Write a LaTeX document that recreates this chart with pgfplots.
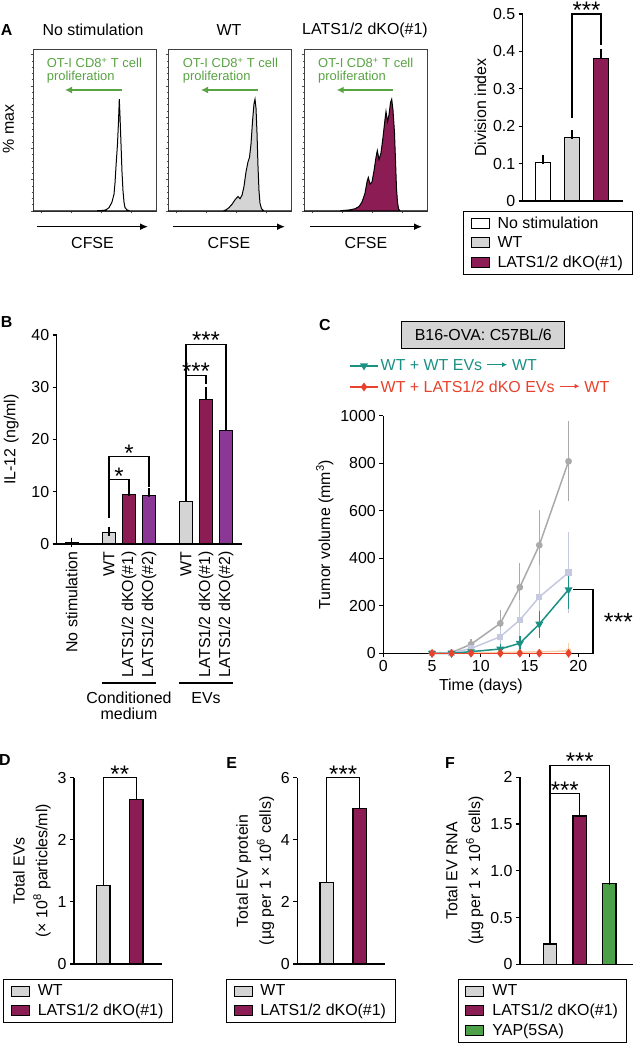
\documentclass[border=0pt]{standalone}
\usepackage{pgfplots}
\pgfplotsset{compat=1.18}
\usepackage{fontspec}
\setmainfont{Liberation Sans}
\usetikzlibrary{arrows.meta}
\definecolor{maroon}{RGB}{139,29,84}
\definecolor{purp}{RGB}{138,55,150}
\definecolor{lgray}{RGB}{212,212,212}
\definecolor{ygreen}{RGB}{76,161,72}
\definecolor{grn}{RGB}{88,163,66}
\definecolor{teal}{RGB}{26,145,132}
\definecolor{cred}{RGB}{232,65,44}
\definecolor{cgray}{RGB}{170,170,170}
\definecolor{clav}{RGB}{197,201,224}
\definecolor{corange}{RGB}{246,208,168}
\newcommand{\fs}{\fontsize{16}{19}\selectfont}
\newcommand{\fsm}{\fontsize{13}{12.7}\selectfont}
\newcommand{\st}{\fontsize{24}{24}\selectfont}
\newcommand{\tarr}[1]{\tikz[baseline=-0.55ex]\draw[#1, line width=1.1bp, -{Latex[length=5bp,width=5bp]}] (0,0) -- (20bp,0);}
\tikzset{sig/.style={line width=1.2bp}}
\pgfplotsset{
  every axis/.append style={font=\fs, scale only axis,
    /pgf/number format/assume math mode=true, /pgf/number format/1000 sep={},
    scaled ticks=false, axis line style={line width=1.2bp}, major tick length=4bp,
    tick style={line width=1.2bp, black}, clip=false},
  barax/.style={axis x line*=bottom, axis y line*=left,
    xtick=\empty, tick align=outside, ymin=0,
    legend cell align=left,
    legend style={draw=black, line width=1bp, font=\fs, inner xsep=7bp, inner ysep=2bp,
      column sep=6bp, nodes={inner ysep=3.4bp}},
    error bars/y dir=plus, error bars/y explicit,
    error bars/error bar style={line width=1.2bp, black},
    error bars/error mark options={line width=1.2bp, black, mark size=4.5bp}},
  bb/.style={ybar, bar shift=0pt, draw=black, line width=1.2bp,
    legend image code/.code={\draw[##1, line width=1bp] (0bp,-5bp) rectangle (18bp,5bp);}},
  hist/.style={anchor=south west, width=123bp, height=162bp, xmin=0, xmax=123, ymin=0, ymax=145,
    xtick={8,38,68,98}, ytick={0,28,56,84,112,140}, minor x tick num=4, minor y tick num=4,
    xticklabels={}, yticklabels={}, xtick pos=left, ytick pos=left, tick align=outside,
    major tick length=2.5bp, minor tick length=1.5bp,
    axis line style={line width=0.9bp, black!75}, tick style={line width=0.6bp, black!70}},
}
\begin{document}
\begin{tikzpicture}[x=1bp,y=1bp]
% ---------- Panel A histograms ----------
\begin{axis}[hist, at={(33bp,839bp)}]
\addplot[fill=white, draw=black, line width=1bp] coordinates {(0,0) (60,0) (70,0.5) (73,1) (76,3) (79,8) (81,15) (82,25) (83,40) (84.5,60) (85.5,80) (86.3,100) (87,85) (88,60) (89,35) (90,18) (91,8) (92,3) (94,1) (97,0) (123,0)} \closedcycle;
\node[anchor=north west, align=left, inner sep=0, font=\fsm, text=grn] at (axis cs:13.7,137) {OT-I CD8\textsuperscript{+} T cell\\proliferation};
\draw[grn, line width=2bp, -{Latex[length=7bp,width=7bp]}] (axis cs:88.7,108.3) -- (axis cs:32,108.3);
\end{axis}
\begin{axis}[hist, at={(168bp,839bp)}]
\addplot[fill=lgray, draw=black, line width=1bp] coordinates {(0,0) (55,0) (58,1) (61,3) (64,6) (67,10) (70,13) (72,11) (74,14) (76,22) (78,35) (80,44) (81.5,48) (83,60) (84.5,80) (86,96) (87,100) (88,92) (89,70) (90,40) (91,18) (92,7) (93.5,2) (96,0) (123,0)} \closedcycle;
\node[anchor=north west, align=left, inner sep=0, font=\fsm, text=grn] at (axis cs:14.7,137) {OT-I CD8\textsuperscript{+} T cell\\proliferation};
\draw[grn, line width=2bp, -{Latex[length=7bp,width=7bp]}] (axis cs:89.7,108.3) -- (axis cs:33,108.3);
\end{axis}
\begin{axis}[hist, at={(304bp,839bp)}]
\addplot[fill=maroon, draw=black, line width=1bp] coordinates {(0,0) (34,0) (40,0.5) (46,1) (51,2) (55,4) (58,8) (61,16) (63,26) (64.3,30) (66,24) (68,26) (70,36) (72,48) (73.3,54) (75,46) (77,52) (79,66) (81,82) (82,89) (83.5,80) (85,86) (86.5,97) (87.7,100) (89,90) (90.5,70) (91.5,45) (92.5,20) (93.5,8) (94.5,2) (96,0) (123,0)} \closedcycle;
\node[anchor=north west, align=left, inner sep=0, font=\fsm, text=grn] at (axis cs:14,137) {OT-I CD8\textsuperscript{+} T cell\\proliferation};
\draw[grn, line width=2bp, -{Latex[length=7bp,width=7bp]}] (axis cs:89,108.3) -- (axis cs:32.7,108.3);
\end{axis}
\node[font=\fs] at (93,1020) {No stimulation};
\node[font=\fs] at (229,1020) {WT};
\node[font=\fs] at (365,1020) {LATS1/2 dKO(\#1)};
\node[font=\fs\bfseries] at (6.7,1020) {A};
\node[font=\fs, rotate=90] at (8.3,921) {\% max};
\foreach \a/\b in {37/148,173/285,310/422} {
  \draw[line width=1.5bp, -{Latex[length=8bp,width=7bp]}] (\a,823.3) -- (\b,823.3);
  \node[font=\fs] at ({(\a+\b)/2},807) {CFSE};
}
% ---------- Panel A bars ----------
\begin{axis}[barax, at={(522.7bp,849bp)}, anchor=south west, width=100.3bp, height=187bp,
  xmin=522.7, xmax=623, ymax=0.5, ytick={0,0.1,0.2,0.3,0.4,0.5}, bar width=15bp,
  ylabel={Division index}, legend style={at={(-0.595,-0.0535)}, anchor=north west}]
\addplot[bb, fill=white] coordinates {(543,0.103) +- (0,0.007)};
\addlegendentry{No stimulation}
\addplot[bb, fill=lgray] coordinates {(572,0.170) +- (0,0.007)};
\addlegendentry{WT}
\addplot[bb, fill=maroon] coordinates {(601,0.382) +- (0,0.013)};
\addlegendentry{LATS1/2 dKO(\#1)}
\draw[sig] (axis cs:572,0.222) |- (axis cs:601,0.5) -- (axis cs:601,0.417);
\node[anchor=base, inner sep=0, font=\st, yshift=-4.5bp] at (axis cs:586.5,0.5) {***};
\end{axis}
% ---------- Panel B ----------
\node[font=\fs\bfseries] at (6.7,728.3) {B};
\begin{axis}[barax, at={(56.7bp,506bp)}, anchor=south west, width=185bp, height=209bp,
  xmin=56.7, xmax=241.7, ymax=40, ytick={0,10,20,30,40}, bar width=13bp,
  xtick={71.7,109,129,149,186,206,226},
  xticklabels={No stimulation, WT, LATS1/2 dKO(\#1), LATS1/2 dKO(\#2), WT, LATS1/2 dKO(\#1), LATS1/2 dKO(\#2)},
  xticklabel style={rotate=90, anchor=east}, major x tick style={draw=none},
  ylabel={IL-12 (ng/ml)}, ylabel shift=6bp]
\addplot[bb, fill=white] coordinates {(71.7,0.3) +- (0,0.05)};
\addplot[bb, fill=lgray] coordinates {(109,2.2) +- (0,0.15)};
\addplot[bb, fill=maroon] coordinates {(129,9.4) +- (0,0.6)};
\addplot[bb, fill=purp] coordinates {(149,9.25) +- (0,0.55)};
\addplot[bb, fill=lgray] coordinates {(186,8.2) +- (0,1.3)};
\addplot[bb, fill=maroon] coordinates {(206,27.6) +- (0,1.6)};
\addplot[bb, fill=purp] coordinates {(226,21.7) +- (0,2.0)};
\draw[sig] (axis cs:109,5.0) |- (axis cs:129,12.3) -- (axis cs:129,11.0);
\draw[sig] (axis cs:109,12.3) |- (axis cs:149,16.7) -- (axis cs:149,11.0);
\node[anchor=base, inner sep=0, font=\st, yshift=-4.5bp] at (axis cs:119,12.3) {*};
\node[anchor=base, inner sep=0, font=\st, yshift=-4.5bp] at (axis cs:129,16.7) {*};
\draw[sig] (axis cs:186,10.3) |- (axis cs:206,32.3) -- (axis cs:206,30.6);
\draw[sig] (axis cs:186,32.3) |- (axis cs:226,38.2) -- (axis cs:226,24.5);
\node[anchor=base, inner sep=0, font=\st, yshift=-4.5bp] at (axis cs:196,32.3) {***};
\node[anchor=base, inner sep=0, font=\st, yshift=-4.5bp] at (axis cs:206,38.2) {***};
\draw[line width=1.2bp] (axis cs:101.7,-26.6) -- (axis cs:156,-26.6);
\draw[line width=1.2bp] (axis cs:179,-26.6) -- (axis cs:233,-26.6);
\node[anchor=north, align=center, inner sep=0, font=\fontsize{16}{16}\selectfont] at (axis cs:129,-28.3) {Conditioned\\medium};
\node[anchor=north, inner sep=0, font=\fs] at (axis cs:206,-28.3) {EVs};
\end{axis}
% ---------- Panel C ----------
\node[font=\fs\bfseries] at (325,725) {C};
\node[draw=black, line width=1.2bp, fill=lgray, minimum width=163bp, minimum height=26.7bp, font=\fs, inner sep=0] at (483.3,715) {B16-OVA: C57BL/6};
\begin{axis}[at={(383.3bp,396.7bp)}, anchor=south west, width=195bp, height=237.6bp,
  xmin=0, xmax=20, ymin=0, ymax=1000, axis x line*=bottom, axis y line*=left,
  tick align=outside, xtick={0,5,10,15,20}, ytick={0,200,400,600,800,1000},
  xlabel={Time (days)}, ylabel={Tumor volume (mm\textsuperscript{3})},
  legend cell align=left,
  legend style={at={(-0.191,1.254)}, anchor=north west, draw=none, fill=none, font=\fs, row sep=4.5bp,
    legend image code/.code={\draw[mark repeat=2, mark phase=2, #1] plot coordinates {(0bp,0bp) (14bp,0bp) (28bp,0bp)};}}]
\addplot[forget plot, cgray, line width=1.5bp, mark=*, mark size=2.6bp,
  error bars/.cd, y dir=both, y explicit, error bar style={line width=1.2bp, cgray}, error mark options={line width=1.2bp, cgray, mark size=4bp}]
  coordinates {(5,0) (7,3) (9,38) +- (0,4) (12,126) +- (0,38) (14,278) +- (0,84) (16,455) +- (0,130) (19,808) +- (0,152)};
\addplot[forget plot, clav, line width=1.5bp, mark=square*, mark size=2.4bp,
  error bars/.cd, y dir=both, y explicit, error bar style={line width=1.2bp, clav}, error mark options={line width=1.2bp, clav, mark size=4bp}]
  coordinates {(5,0) (7,2) (9,20) +- (0,5) (12,70) +- (0,18) (14,140) +- (0,68) (16,237) +- (0,118) (19,340) +- (0,153)};
\addplot[forget plot, corange, line width=1.5bp, mark=*, mark size=2bp,
  error bars/.cd, y dir=both, y explicit, error bar style={line width=1.2bp, corange}, error mark options={line width=1.2bp, corange, mark size=4bp}]
  coordinates {(5,0) (7,0) (9,2) (12,3) (14,5) (16,6) (19,10) +- (0,15)};
\addplot[teal, line width=1.5bp, mark=triangle*, mark size=3.2bp, mark options={rotate=180},
  error bars/.cd, y dir=both, y explicit, error bar style={line width=1.5bp, teal}, error mark options={line width=1.5bp, teal, mark size=4bp, rotate=0}]
  coordinates {(5,0) (7,0) (9,7) +- (0,3) (12,18) +- (0,5) (14,42) +- (0,15) (16,123) +- (0,40) (19,268) +- (0,64)};
\addlegendentry{\textcolor{teal}{WT + WT EVs \tarr{teal} WT}}
\addplot[cred, line width=1.5bp, mark=diamond*, mark size=3.2bp]
  coordinates {(5,0) (7,0) (9,0) (12,0) (14,0) (16,0) (19,0)};
\addlegendentry{\textcolor{cred}{WT + LATS1/2 dKO EVs \tarr{cred} WT}}
\draw[line width=1.2bp] (axis cs:19.5,269) -- (axis cs:21.5,269) -- (axis cs:21.5,0) -- (axis cs:20.1,0);
\node[anchor=base west, inner sep=0, font=\fontsize{25}{25}\selectfont] at (axis cs:22.6,95) {***};
\end{axis}
% ---------- Panel D ----------
\node[font=\fs\bfseries] at (5,290) {D};
\begin{axis}[barax, at={(74bp,86bp)}, anchor=south west, width=88.3bp, height=186.3bp,
  xmin=74, xmax=162.3, ymax=3, ytick={0,1,2,3}, bar width=13.5bp,
  ylabel={Total EVs\\(× 10\textsuperscript{8} particles/ml)}, ylabel style={align=center, font=\fontsize{16}{23}\selectfont},
  legend style={at={(-0.80,-0.0805)}, anchor=north west}]
\addplot[bb, fill=lgray] coordinates {(103.3,1.26) +- (0,0.14)};
\addlegendentry{WT}
\addplot[bb, fill=maroon] coordinates {(136.3,2.65) +- (0,0.21)};
\addlegendentry{LATS1/2 dKO(\#1)}
\draw[sig] (axis cs:103.3,1.45) |- (axis cs:136.3,3.0) -- (axis cs:136.3,2.9);
\node[anchor=base, inner sep=0, font=\st, yshift=-4.5bp] at (axis cs:119.8,3.0) {**};
\end{axis}
% ---------- Panel E ----------
\node[font=\fs\bfseries] at (231.7,286.7) {E};
\begin{axis}[barax, at={(297.3bp,86bp)}, anchor=south west, width=87.7bp, height=186.3bp,
  xmin=297.3, xmax=385, ymax=6, ytick={0,2,4,6}, bar width=13.5bp,
  ylabel={Total EV protein\\(µg per 1 × 10\textsuperscript{6} cells)}, ylabel style={align=center, font=\fontsize{16}{23}\selectfont},
  legend style={at={(-0.813,-0.0805)}, anchor=north west}]
\addplot[bb, fill=lgray] coordinates {(326.7,2.63) +- (0,0.37)};
\addlegendentry{WT}
\addplot[bb, fill=maroon] coordinates {(359.7,5.01) +- (0,0.24)};
\addlegendentry{LATS1/2 dKO(\#1)}
\draw[sig] (axis cs:326.7,3.1) |- (axis cs:359.7,6.0) -- (axis cs:359.7,5.35);
\node[anchor=base, inner sep=0, font=\st, yshift=-4.5bp] at (axis cs:343.2,6.0) {***};
\end{axis}
% ---------- Panel F ----------
\node[font=\fs\bfseries] at (450,287.3) {F};
\begin{axis}[barax, at={(520bp,85.7bp)}, anchor=south west, width=113bp, height=187bp,
  xmin=520, xmax=633, ymax=2, ytick={0,0.5,1,1.5,2}, yticklabels={0,0.5,1.0,1.5,2}, bar width=13.5bp,
  ylabel={Total EV RNA\\(µg per 1 × 10\textsuperscript{6} cells)}, ylabel style={align=center, font=\fontsize{16}{23}\selectfont},
  legend style={at={(-0.549,-0.0786)}, anchor=north west}]
\addplot[bb, fill=lgray] coordinates {(550,0.217) +- (0,0.036)};
\addlegendentry{WT}
\addplot[bb, fill=maroon] coordinates {(579.7,1.586) +- (0,0.10)};
\addlegendentry{LATS1/2 dKO(\#1)}
\addplot[bb, fill=ygreen] coordinates {(609.3,0.866) +- (0,0.034)};
\addlegendentry{YAP(5SA)}
\draw[sig] (axis cs:550,0.29) |- (axis cs:579.7,1.825) -- (axis cs:579.7,1.74);
\draw[sig] (axis cs:550,1.825) |- (axis cs:609.3,2.13) -- (axis cs:609.3,0.93);
\node[anchor=base, inner sep=0, font=\st, yshift=-4.5bp] at (axis cs:564.8,1.825) {***};
\node[anchor=base, inner sep=0, font=\st, yshift=-4.5bp] at (axis cs:579.7,2.13) {***};
\end{axis}
\pgfresetboundingbox
\path[use as bounding box] (0,0) rectangle (634,1050);
\end{tikzpicture}
\end{document}
